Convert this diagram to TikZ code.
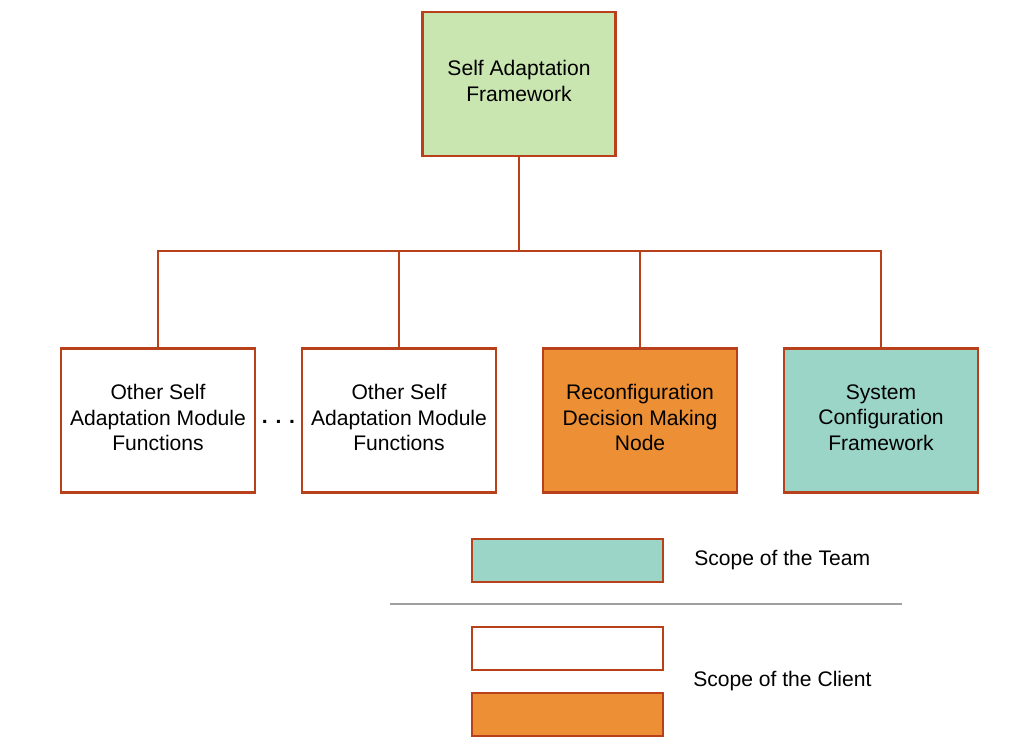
\documentclass[tikz,border=0pt]{standalone}
\usepackage{fontspec}
\setmainfont{Liberation Sans}
\usepackage{xcolor}
\usetikzlibrary{positioning}
\usetikzlibrary{calc}
\definecolor{edgered}{RGB}{184, 64, 26}
\definecolor{framegreen}{RGB}{201, 229, 176}
\definecolor{teamteal}{RGB}{155, 213, 200}
\definecolor{clientorange}{RGB}{237, 143, 52}
\definecolor{sepgray}{RGB}{160, 160, 160}
\tikzstyle{modbox} = [
	draw=edgered,
	line width=1.5pt,
	outer sep=0pt,
	fill=white,
	minimum width=4.85cm,
	minimum height=3.6cm,
	align=center,
	font=\fontsize{15}{18.2}\selectfont
]
\tikzstyle{keybox} = [
	draw=edgered,
	line width=1.5pt,
	outer sep=0pt,
	minimum width=4.775cm,
	minimum height=1.075cm
]
\tikzstyle{keytext} = [
	anchor=west,
	inner sep=0pt,
	font=\fontsize{15}{18.2}\selectfont
]
\tikzstyle{link} = [
	draw=edgered,
	line width=1.5pt
]

\begin{document}
\begin{tikzpicture}[node distance=1.175cm and 1.175cm]
	\useasboundingbox (0,0) rectangle (25.4,-18.85);
	
	%
	% Framework on top
	\node[modbox, fill=framegreen, minimum width=4.825cm] (SAF) at (12.975,-2.1) {Self Adaptation\\Framework\\[-14pt]};
	
	% Module row
	\node[modbox] (M1) at (3.95,-10.5125) {Other Self\\Adaptation Module\\Functions\\[-14pt]};
	\node[modbox, right=of M1] (M2) {Other Self\\Adaptation Module\\Functions\\[-14pt]};
	\node[modbox, fill=clientorange, right=of M2] (M3) {Reconfiguration\\Decision Making\\Node\\[-14pt]};
	\node[modbox, fill=teamteal, right=of M3] (M4) {System\\Configuration\\Framework\\[-14pt]};
	\path (M1.east) -- (M2.west) node[midway, yshift=-1pt, font=\fontsize{15}{18.2}\selectfont\bfseries] (dots) {. . .};
	
	% Tree links
	\coordinate[below=2.375cm of SAF.south] (bus);
	\draw[link] (SAF.south) -- (bus);
	\draw[link, line cap=rect] (M1.north |- bus) -- (M4.north |- bus);
	\foreach \m in {M1,M2,M3,M4}
		\draw[link] (\m.north) -- (\m.north |- bus);
	
	% Legend
	\node[keybox, fill=teamteal] (TeamKey) at (14.1875,-14.0125) {};
	\node[keytext, right=0.775cm of TeamKey] (TeamText) {Scope of the Team};
	\coordinate (sepL) at (9.75,-15.1);
	\coordinate (sepR) at (22.55,-15.1);
	\draw[sepgray, line width=1pt] (sepL) -- (sepR);
	\node[keybox, fill=white] (ClientW) at (14.1875,-16.2125) {};
	\node[keybox, fill=clientorange] (ClientO) at (14.1875,-17.8625) {};
	\node[keytext] (ClientText) at ($($(ClientW.east)!0.5!(ClientO.east)$)+(0.75,0)$) {Scope of the Client};
	
\end{tikzpicture}
\end{document}
